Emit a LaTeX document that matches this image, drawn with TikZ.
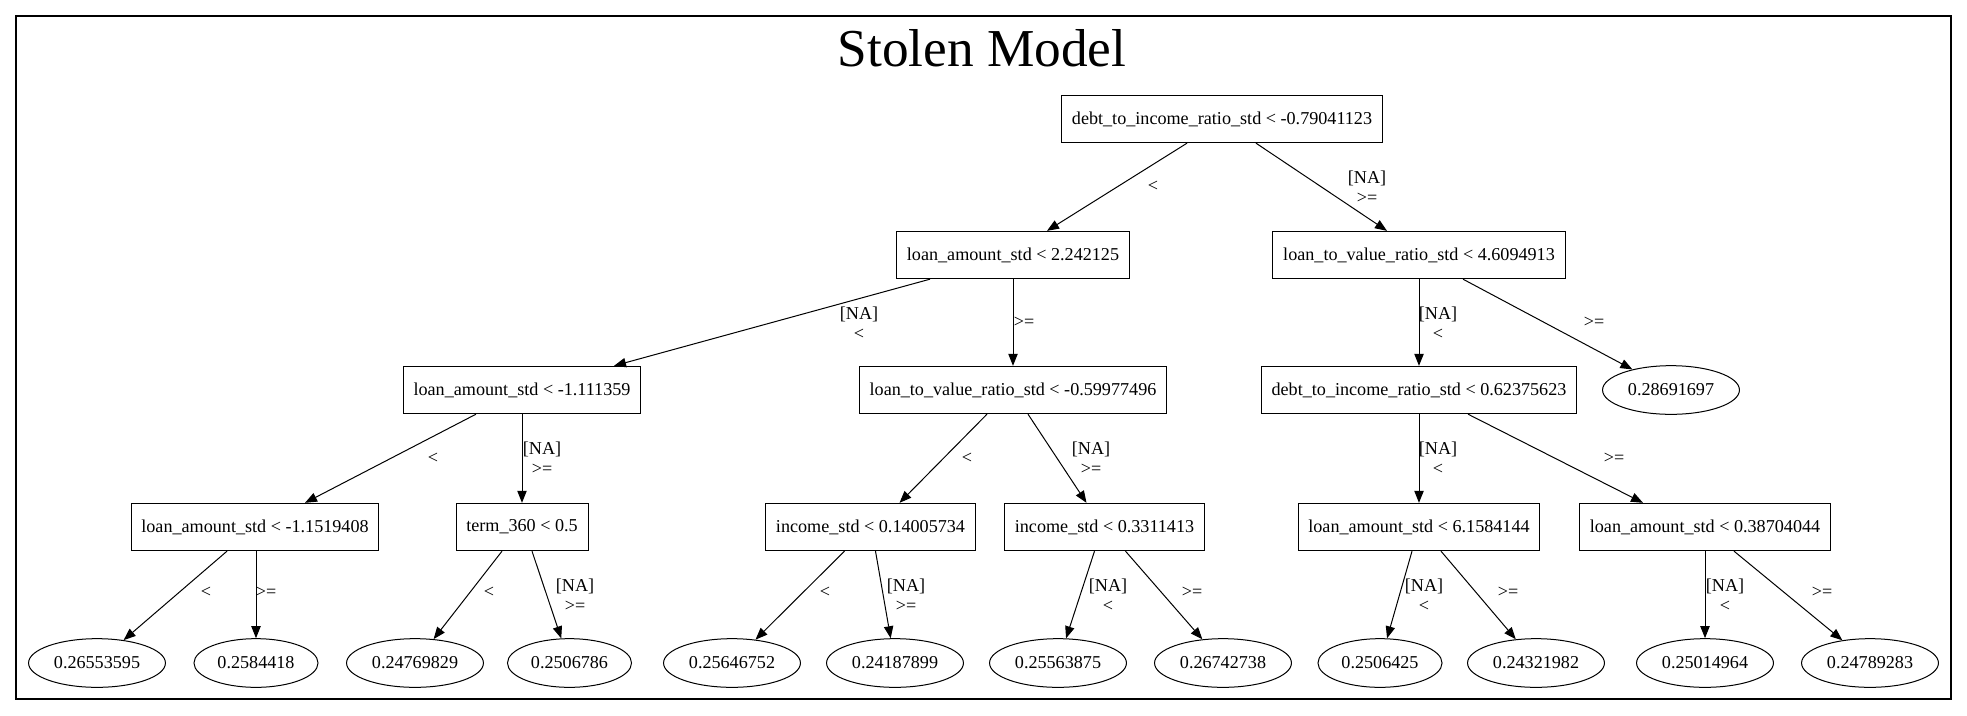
\documentclass[tikz,border=0pt]{standalone}
\usepackage{fontspec}
\setmainfont{Liberation Serif}
\usetikzlibrary{arrows.meta,shapes.geometric,calc}
\newcommand{\tfont}{\fontsize{13.6}{15}\selectfont}
\begin{document}
\begin{tikzpicture}[x=0.75pt,y=-0.75pt,
  box/.style={draw,line width=0.75pt,rectangle,minimum height=35.5pt,inner xsep=7.7pt,font=\tfont},
  leaf/.style={draw,line width=0.75pt,ellipse,minimum height=36.5pt,inner xsep=4pt,font=\tfont},
  edge/.style={line width=0.75pt,-{Triangle[length=9pt,width=7pt]}},
  lbl/.style={font=\tfont,inner sep=0pt,align=center}
]
\useasboundingbox (0,0) rectangle (1967,715);
\draw[line width=1pt] (16,16) rectangle (1951,699);
\node[font=\fontsize{40}{44}\selectfont] (title) at (982,48) {Stolen Model};

\node[box] (root) at (1222,119) {debt\_to\_income\_ratio\_std < -0.79041123};
\node[box] (L1a) at (1013,255) {loan\_amount\_std < 2.242125};
\node[box] (L1b) at (1419,255) {loan\_to\_value\_ratio\_std < 4.6094913};
\node[box] (L2a) at (522,390) {loan\_amount\_std < -1.111359};
\node[box] (L2b) at (1013,390) {loan\_to\_value\_ratio\_std < -0.59977496};
\node[box] (L2c) at (1419,390) {debt\_to\_income\_ratio\_std < 0.62375623};
\node[leaf] (E) at (1671,390) {0.28691697};
\node[box] (L3a) at (255,527) {loan\_amount\_std < -1.1519408};
\node[box] (L3b) at (522,527) {term\_360 < 0.5};
\node[box] (L3c) at (870.5,527) {income\_std < 0.14005734};
\node[box] (L3d) at (1104.5,527) {income\_std < 0.3311413};
\node[box] (L3e) at (1419,527) {loan\_amount\_std < 6.1584144};
\node[box] (L3f) at (1705,527) {loan\_amount\_std < 0.38704044};

\node[leaf] (f1) at (97,663) {0.26553595};
\node[leaf] (f2) at (256,663) {0.2584418};
\node[leaf] (f3) at (415,663) {0.24769829};
\node[leaf] (f4) at (569.5,663) {0.2506786};
\node[leaf] (f5) at (732,663) {0.25646752};
\node[leaf] (f6) at (895,663) {0.24187899};
\node[leaf] (f7) at (1058,663) {0.25563875};
\node[leaf] (f8) at (1223,663) {0.26742738};
\node[leaf] (f9) at (1380,663) {0.2506425};
\node[leaf] (f10) at (1536,663) {0.24321982};
\node[leaf] (f11) at (1705,663) {0.25014964};
\node[leaf] (f12) at (1870,663) {0.24789283};

% edges
\draw[edge] ($(root.south)+(-35,0)$) -- ($(L1a.north)+(34,0)$);
\draw[edge] ($(root.south)+(34,0)$) -- ($(L1b.north)+(-32,0)$);
\draw[edge] ($(L1a.south)+(-83,0)$) -- ($(L2a.north)+(92,0)$);
\draw[edge] (L1a.south) -- (L2b.north);
\draw[edge] (L1b.south) -- (L2c.north);
\draw[edge] ($(L1b.south)+(44,0)$) -- (E);
\draw[edge] ($(L2a.south)+(-46,0)$) -- ($(L3a.north)+(50,0)$);
\draw[edge] (L2a.south) -- (L3b.north);
\draw[edge] ($(L2b.south)+(-26,0)$) -- ($(L3c.north)+(29,0)$);
\draw[edge] ($(L2b.south)+(15,0)$) -- ($(L3d.north)+(-18,0)$);
\draw[edge] (L2c.south) -- (L3e.north);
\draw[edge] ($(L2c.south)+(49,0)$) -- ($(L3f.north)+(-62,0)$);

\draw[edge] ($(L3a.south)+(-28,0)$) -- (f1);
\draw[edge] ($(L3a.south)+(1,0)$) -- (f2.north);
\draw[edge] ($(L3b.south)+(-20,0)$) -- (f3);
\draw[edge] ($(L3b.south)+(10,0)$) -- (f4);
\draw[edge] ($(L3c.south)+(-26,0)$) -- (f5);
\draw[edge] ($(L3c.south)+(5,0)$) -- (f6);
\draw[edge] ($(L3d.south)+(-10,0)$) -- (f7);
\draw[edge] ($(L3d.south)+(21,0)$) -- (f8);
\draw[edge] ($(L3e.south)+(-7,0)$) -- (f9);
\draw[edge] ($(L3e.south)+(22,0)$) -- (f10);
\draw[edge] (L3f.south) -- (f11.north);
\draw[edge] ($(L3f.south)+(29,0)$) -- (f12);

% edge labels
\node[lbl] (e1) at (1153,186) {<};
\node[lbl] (e2) at (1367,187) {[NA]\\>=};
\node[lbl] (e3) at (859,323) {[NA]\\<};
\node[lbl] (e4) at (1024,322) {>=};
\node[lbl] (e5) at (1438,323) {[NA]\\<};
\node[lbl] (e6) at (1594,322) {>=};
\node[lbl] (e7) at (433,458) {<};
\node[lbl] (e8) at (542,458) {[NA]\\>=};
\node[lbl] (e9) at (967,458) {<};
\node[lbl] (e10) at (1091,458) {[NA]\\>=};
\node[lbl] (e11) at (1438,458) {[NA]\\<};
\node[lbl] (e12) at (1614,458) {>=};
\node[lbl] (e13) at (206,592) {<};
\node[lbl] (e14) at (266,592) {>=};
\node[lbl] (e15) at (489,592) {<};
\node[lbl] (e16) at (575,595) {[NA]\\>=};
\node[lbl] (e17) at (825,592) {<};
\node[lbl] (e18) at (906,595) {[NA]\\>=};
\node[lbl] (e19) at (1108,595) {[NA]\\<};
\node[lbl] (e20) at (1192,592) {>=};
\node[lbl] (e21) at (1424,595) {[NA]\\<};
\node[lbl] (e22) at (1508,592) {>=};
\node[lbl] (e23) at (1725,595) {[NA]\\<};
\node[lbl] (e24) at (1822,592) {>=};
\end{tikzpicture}
\end{document}
